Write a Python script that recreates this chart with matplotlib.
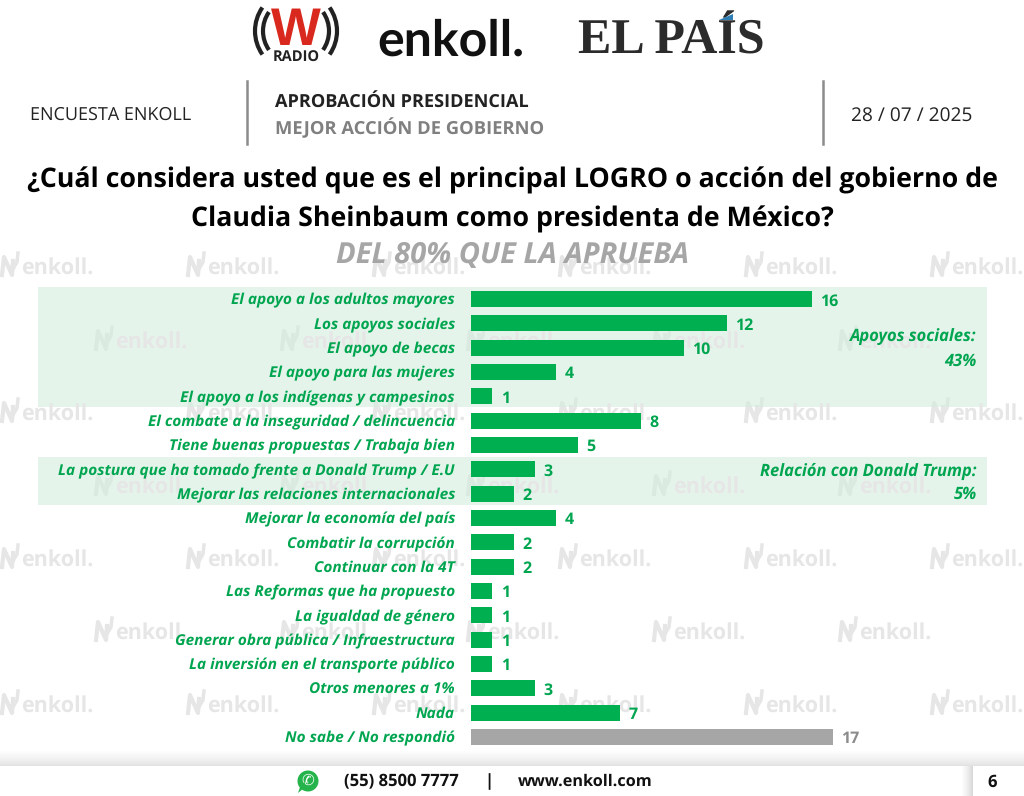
import numpy as np
import matplotlib
matplotlib.use('Agg')
import matplotlib.pyplot as plt
from matplotlib.patches import Rectangle, Circle, Arc, Polygon

plt.rcParams['font.family'] = ['Open Sans', 'DejaVu Sans']
plt.rcParams['text.hinting'] = 'no_hinting'

categories = ['El apoyo a los adultos mayores', 'Los apoyos sociales', 'El apoyo de becas',
              'El apoyo para las mujeres', 'El apoyo a los indígenas y campesinos',
              'El combate a la inseguridad / delincuencia', 'Tiene buenas propuestas / Trabaja bien',
              'La postura que ha tomado frente a Donald Trump / E.U',
              'Mejorar las relaciones internacionales', 'Mejorar la economía del país',
              'Combatir la corrupción', 'Continuar con la 4T', 'Las Reformas que ha propuesto',
              'La igualdad de género', 'Generar obra pública / Infraestructura',
              'La inversión en el transporte público', 'Otros menores a 1%', 'Nada',
              'No sabe / No respondió']
values = [16, 12, 10, 4, 1, 8, 5, 3, 2, 4, 2, 2, 1, 1, 1, 1, 3, 7, 17]

GREEN = '#00B050'
TEXT_GREEN = '#00A550'
GRAY = '#A6A6A6'
BAND = '#D5EEDF'
MARK = '#E6E6E6'

fig = plt.figure(figsize=(10.24, 7.96), dpi=100)

# page layer in pixel coordinates
bg = fig.add_axes([0, 0, 1, 1], zorder=0)
bg.set_xlim(0, 1024)
bg.set_ylim(796, 0)
bg.axis('off')


def watermark(x, y):
    bg.plot([x + 2, x + 4, x + 12, x + 13], [y + 9, y - 9, y + 9, y - 5], color=MARK, lw=3, solid_joinstyle='round')
    bg.plot([x + 13, x + 17, x + 18], [y + 3, y - 4, y - 13], color=MARK, lw=2.5)
    bg.text(x + 21, y + 3, 'enkoll.', fontsize=15.5, color=MARK, fontweight='bold', va='center', ha='left')


for i, y in enumerate([266, 340, 412, 485, 558, 631, 704, 777]):
    start = 0 if i % 2 == 0 else 94
    for x in np.arange(start, 1024, 186):
        watermark(x, y)

# shaded groups
bg.add_patch(Rectangle((38, 287), 949, 120, fc=BAND, ec='none', alpha=0.6, zorder=2))
bg.add_patch(Rectangle((38, 457), 949, 48, fc=BAND, ec='none', alpha=0.6, zorder=2))

# logos
for d, lw in [(82, 3), (66, 3)]:
    bg.add_patch(Arc((296, 31), d, d, theta1=145, theta2=215, color='#222222', lw=lw))
    bg.add_patch(Arc((296, 31), d, d, theta1=-35, theta2=35, color='#222222', lw=lw))
bg.text(296, 31, 'W', fontsize=38, color='#D9281E', fontweight='bold', ha='center', va='center', family='Liberation Sans')
bg.text(296, 58, 'RADIO', fontsize=10.5, color='#222222', fontweight='bold', ha='center', va='center')
bg.text(451, 41, 'enkoll.', fontsize=36, color='#111111', fontweight='bold', ha='center', va='center',
        family='Lato')
bg.text(671, 41, 'EL PAÍS', fontsize=36, color='#2B2B2B', fontweight='bold', ha='center', va='center',
        family='Liberation Serif')
bg.add_patch(Polygon([[719, 20], [733, 14], [733, 20]], fc='#2F7FB5', ec='none', zorder=3))

# header
bg.plot([247, 247], [81, 144], color='#8C8C8C', lw=1.8)
bg.plot([823, 823], [81, 144], color='#8C8C8C', lw=1.8)
bg.text(30, 115, 'ENCUESTA ENKOLL', fontsize=13, color='#222222', va='center')
bg.text(275, 102, 'APROBACIÓN PRESIDENCIAL', fontsize=13.1, color='#222222', fontweight='bold', va='center')
bg.text(275, 128, 'MEJOR ACCIÓN DE GOBIERNO', fontsize=13.2, color='#808080', fontweight='bold', va='center')
bg.text(851, 116, '28 / 07 / 2025', fontsize=13.8, color='#222222', va='center')

bg.text(512, 180, '¿Cuál considera usted que es el principal LOGRO o acción del gobierno de',
        fontsize=19.3, color='black', fontweight='bold', ha='center', va='center')
bg.text(512, 219, 'Claudia Sheinbaum como presidenta de México?',
        fontsize=19.3, color='black', fontweight='bold', ha='center', va='center')
bg.text(512, 255, 'DEL 80% QUE LA APRUEBA', fontsize=21, color='#A6A6A6', fontweight='bold',
        style='italic', ha='center', va='center')

# group notes
bg.text(977, 338, 'Apoyos sociales:', fontsize=11.9, color=TEXT_GREEN, fontweight='bold', style='italic',
        ha='right', va='center', zorder=4)
bg.text(977, 361, '43%', fontsize=11.9, color=TEXT_GREEN, fontweight='bold', style='italic',
        ha='right', va='center', zorder=4)
bg.text(977, 471, 'Relación con Donald Trump:', fontsize=11.9, color=TEXT_GREEN, fontweight='bold', style='italic',
        ha='right', va='center', zorder=4)
bg.text(977, 494, '5%', fontsize=11.9, color=TEXT_GREEN, fontweight='bold', style='italic',
        ha='right', va='center', zorder=4)

# footer
shadow = np.linspace(0, 1, 16).reshape(-1, 1)
bg.imshow(shadow, extent=(0, 1024, 766, 750), cmap='Greys', vmin=0, vmax=5, aspect='auto', zorder=3)
bg.set_xlim(0, 1024)
bg.set_ylim(796, 0)
bg.add_patch(Rectangle((0, 766), 1024, 30, fc='white', ec='none', zorder=3))
side = np.linspace(0, 1, 12).reshape(1, -1)
bg.imshow(side, extent=(961, 973, 796, 766), cmap='Greys', vmin=0, vmax=4, aspect='auto', zorder=3)
bg.set_xlim(0, 1024)
bg.set_ylim(796, 0)
bg.add_patch(Circle((308, 781), 10.5, fc='#25B34B', ec='none', zorder=4))
bg.add_patch(Polygon([[298, 793], [301, 784], [304, 788]], fc='#25B34B', ec='none', zorder=4))
bg.text(308, 781, '✆', fontsize=11, color='white', ha='center', va='center', zorder=5, family='DejaVu Sans')
bg.text(344, 782, '(55) 8500 7777', fontsize=12, color='#111111', fontweight='bold', va='center', zorder=4)
bg.text(489, 782, '|', fontsize=12, color='#111111', fontweight='bold', ha='center', va='center', zorder=4)
bg.text(518, 782, 'www.enkoll.com', fontsize=11.7, color='#111111', fontweight='bold', va='center', zorder=4)
bg.text(992, 782, '6', fontsize=12, color='#111111', fontweight='bold', ha='center', va='center', zorder=4)

# chart layer, lined up with the page pixels
ax = fig.add_axes([471 / 1024, (796 - 749) / 796, (987 - 471) / 1024, 462 / 796], zorder=1)
ax.patch.set_alpha(0)
y = np.arange(len(categories))
colors = [GREEN] * (len(values) - 1) + [GRAY]
bars = ax.barh(y, values, height=0.66, color=colors)
ax.set_xlim(0, 516 / 21.3)
ax.set_ylim(len(categories) - 0.5, -0.5)
ax.set_yticks(y)
ax.set_yticklabels(categories, fontsize=11.05, fontweight='bold', style='italic', color=TEXT_GREEN)
ax.tick_params(axis='y', length=0, pad=11.5)
ax.set_xticks([])
for s in ax.spines.values():
    s.set_visible(False)
for bar, v, c in zip(bars, values, colors):
    ax.annotate(str(v), (v, bar.get_y() + bar.get_height() / 2), xytext=(6, -1.5), textcoords='offset points',
                fontsize=11.5, fontweight='bold', color=TEXT_GREEN if c == GREEN else '#8C8C8C', va='center')

fig.savefig('out.png', dpi=100)
